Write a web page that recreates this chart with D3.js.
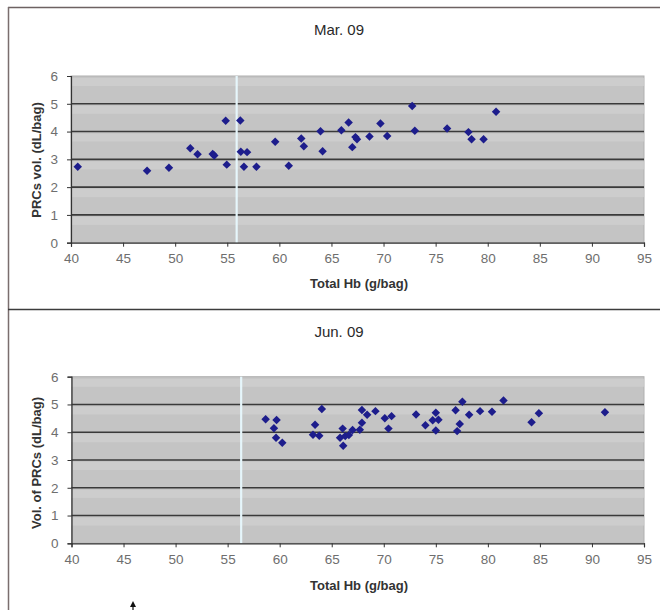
<!DOCTYPE html>
<html><head><meta charset="utf-8">
<script src="https://cdn.jsdelivr.net/npm/d3@7"></script>
<style>body{margin:0;background:#fff}svg{display:block}</style>
</head><body><svg id="c" width="660" height="610"></svg>
<script>
// ---- data ----
const marHb  = [40.65, 47.3, 49.4, 51.45, 52.15, 53.6, 53.75, 54.85, 54.95, 56.25, 56.3, 56.9, 56.6, 57.8, 59.6, 60.9, 62.1, 62.35, 63.95, 64.15, 65.95, 66.65, 67.0, 67.3, 67.45, 68.65, 69.7, 70.35, 72.75, 73.0, 76.1, 78.15, 78.45, 79.6, 80.8];
const marVol = [2.73, 2.59, 2.70, 3.40, 3.18, 3.19, 3.14, 4.39, 2.81, 4.40, 3.27, 3.26, 2.73, 2.73, 3.63, 2.77, 3.75, 3.47, 4.01, 3.29, 4.05, 4.33, 3.44, 3.80, 3.72, 3.82, 4.29, 3.84, 4.92, 4.03, 4.11, 3.98, 3.72, 3.72, 4.71];
const junHb  = [58.65, 59.7, 59.45, 59.65, 60.25, 63.4, 63.2, 63.8, 64.05, 65.8, 66.05, 66.1, 66.3, 66.65, 67.0, 67.7, 67.9, 67.9, 68.4, 69.2, 70.1, 70.75, 70.45, 73.1, 74.0, 75.0, 74.7, 75.25, 75.0, 76.9, 77.55, 77.3, 77.05, 78.2, 79.25, 80.4, 81.5, 84.2, 84.9, 91.25];
const junVol = [4.47, 4.44, 4.14, 3.80, 3.62, 4.27, 3.91, 3.87, 4.84, 3.80, 4.13, 3.51, 3.86, 3.90, 4.08, 4.09, 4.34, 4.80, 4.63, 4.76, 4.50, 4.58, 4.13, 4.64, 4.25, 4.70, 4.43, 4.45, 4.06, 4.79, 5.10, 4.30, 4.04, 4.63, 4.76, 4.74, 5.14, 4.36, 4.68, 4.72];
const xTicks = [40, 45, 50, 55, 60, 65, 70, 75, 80, 85, 90, 95];
const yTicks = [0, 1, 2, 3, 4, 5, 6];
const titles = ["Mar. 09", "Jun. 09"];
const yTitles = ["PRCs vol. (dL/bag)", "Vol. of PRCs (dL/bag)"];
const xTitle = "Total Hb (g/bag)";
const markerLines = [55.9, 56.3];

const svg = d3.select("#c");
const font = "'Liberation Sans', Arial, sans-serif";

// frame
svg.append("line").attr("x1",8).attr("x2",660).attr("y1",7.5).attr("y2",7.5).attr("stroke","#6d6262").attr("stroke-width",1.5);
svg.append("line").attr("x1",8.5).attr("x2",8.5).attr("y1",7).attr("y2",610).attr("stroke","#7a6e6e").attr("stroke-width",1.5);
svg.append("line").attr("x1",8).attr("x2",660).attr("y1",309.5).attr("y2",309.5).attr("stroke","#3c3c3c").attr("stroke-width",1.5);

const panels = [
  {hb: marHb, vol: marVol, x0: 71, x1: 644, yTop: 76, yBot: 242.7, titleY: 35, xtY: 288, ytX: 41, ytY: 160},
  {hb: junHb, vol: junVol, x0: 71.5, x1: 644, yTop: 376.7, yBot: 543.3, titleY: 337, xtY: 590, ytX: 41, ytY: 463}
];

panels.forEach((p, i) => {
  const x = d3.scaleLinear().domain([40, 95]).range([p.x0, p.x1]);
  const y = d3.scaleLinear().domain([0, 6]).range([p.yBot, p.yTop]);
  const g = svg.append("g");
  // plot background
  g.append("rect").attr("x", p.x0).attr("y", p.yTop).attr("width", p.x1 - p.x0).attr("height", p.yBot - p.yTop)
    .attr("fill", "#c4c4c4").attr("stroke", "#b0b0b0");
  // lighter bands below each gridline
  yTicks.slice(0, -1).forEach(t => {
    g.append("rect").attr("x", p.x0).attr("width", p.x1 - p.x0)
      .attr("y", y(t + 1) + 2).attr("height", 8).attr("fill", "#d2d2d2").attr("opacity", 0.7);
  });
  // gridlines
  g.selectAll("line.grid").data(yTicks.filter(t => t > 0 && t < 6)).join("line")
    .attr("x1", p.x0).attr("x2", p.x1).attr("y1", d => y(d)).attr("y2", d => y(d))
    .attr("stroke", "#3a3a3a").attr("stroke-width", 1.6);
  // light vertical line
  g.append("line").attr("x1", x(markerLines[i])).attr("x2", x(markerLines[i]))
    .attr("y1", p.yTop).attr("y2", p.yBot).attr("stroke", "#e6f6fb").attr("stroke-width", 2.2);
  // axes
  const ax = g.append("g").attr("transform", `translate(0,${p.yBot})`)
    .call(d3.axisBottom(x).tickValues(xTicks).tickFormat(d3.format("d")).tickSize(4).tickPadding(7));
  const ay = g.append("g").attr("transform", `translate(${p.x0},0)`)
    .call(d3.axisLeft(y).tickValues(yTicks).tickFormat(d3.format("d")).tickSize(4).tickPadding(9));
  [ax, ay].forEach(a => {
    a.select(".domain").attr("stroke", "#333").attr("stroke-width", 1.2);
    a.selectAll(".tick line").attr("stroke", "#333");
    a.selectAll("text").attr("fill", "#6e6e6e").style("font-family", font).style("font-size", "13.5px");
  });
  // points
  const sym = d3.symbol().type(d3.symbolSquare).size(36);
  g.selectAll("path.pt").data(p.hb.map((h, k) => [h, p.vol[k]])).join("path")
    .attr("d", sym)
    .attr("transform", d => `translate(${x(d[0])},${y(d[1])}) rotate(45)`)
    .attr("fill", "#1d1d8c");
  // titles
  svg.append("text").attr("x", 339).attr("y", p.titleY).attr("text-anchor", "middle")
    .style("font-family", font).style("font-size", "15px").attr("fill", "#2a2a2a").text(titles[i]);
  svg.append("text").attr("x", 359).attr("y", p.xtY).attr("text-anchor", "middle")
    .style("font-family", font).style("font-size", "13px").style("font-weight", "bold").attr("fill", "#333").text(xTitle);
  svg.append("text").attr("transform", `translate(${p.ytX},${p.ytY}) rotate(-90)`).attr("text-anchor", "middle")
    .style("font-family", font).style("font-size", "13px").style("font-weight", "bold").attr("fill", "#333").text(yTitles[i]);
});

// small arrow at bottom
svg.append("path").attr("d", "M133,601 L130,607 L136,607 Z").attr("fill", "#111");
svg.append("line").attr("x1",133).attr("x2",133).attr("y1",606).attr("y2",610).attr("stroke","#111").attr("stroke-width",1.2);
</script></body></html>
